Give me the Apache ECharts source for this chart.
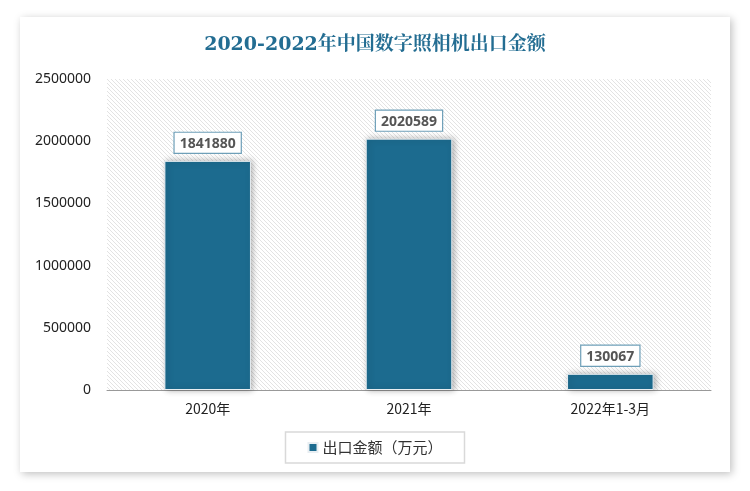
<!DOCTYPE html>
<html><head><meta charset="utf-8">
<script src="https://cdn.jsdelivr.net/npm/echarts@6/dist/echarts.min.js"></script>
<style>html,body{margin:0;padding:0;background:#fff}#c{width:750px;height:491px}</style>
</head><body><div id="c"></div>
<script>
var categories = ['2020年', '2021年', '2022年1-3月'];
var values = [1841880, 2020589, 130067];
var seriesName = '出口金额（万元）';
var titleText = '2020-2022年中国数字照相机出口金额';

var pc = document.createElement('canvas');
pc.width = 4; pc.height = 4;
var g = pc.getContext('2d');
g.fillStyle = '#ffffff'; g.fillRect(0,0,4,4);
g.strokeStyle = '#e3e3e3'; g.lineWidth = 1;
g.beginPath();
g.moveTo(0,0); g.lineTo(4,4);
g.moveTo(-2,2); g.lineTo(2,6);
g.moveTo(2,-2); g.lineTo(6,2);
g.stroke();

var chart = echarts.init(document.getElementById('c'), null, {renderer: 'canvas'});
chart.setOption({
  backgroundColor: '#ffffff',
  graphic: [{
    type: 'rect', z: -10, silent: true,
    shape: {x: 20, y: 17, width: 710, height: 455},
    style: {fill: '#fff', shadowBlur: 8, shadowColor: 'rgba(0,0,0,0.25)', shadowOffsetX: 2, shadowOffsetY: 2}
  }],
  title: {
    text: titleText, left: 'center', top: 31,
    textStyle: {fontFamily: 'DejaVu Serif, Noto Serif CJK SC, serif', fontSize: 19, fontWeight: 'bold', color: '#236d92'}
  },
  grid: {left: 107, right: 39, top: 79, bottom: 101, show: true, borderWidth: 0,
    backgroundColor: {image: pc, repeat: 'repeat'}},
  legend: {
    data: [seriesName], bottom: 28, left: 'center',
    itemWidth: 9, itemHeight: 9, icon: 'rect',
    borderColor: '#d9d9d9', borderWidth: 1.5, padding: [8, 22, 8, 22],
    textStyle: {fontSize: 15, color: '#333', fontFamily: 'Noto Sans CJK SC'}
  },
  xAxis: {
    type: 'category', data: categories,
    axisLine: {lineStyle: {color: '#999', width: 1}},
    axisTick: {show: false},
    axisLabel: {fontSize: 14, color: '#222', margin: 12, fontFamily: 'Noto Sans CJK SC'}
  },
  yAxis: {
    type: 'value', min: 0, max: 2500000, interval: 500000,
    axisLine: {show: false}, axisTick: {show: false},
    splitLine: {show: false},
    axisLabel: {fontSize: 14, color: '#222', margin: 16, fontFamily: 'Noto Sans, sans-serif',
      formatter: function (v) { return String(v); }}
  },
  series: [{
    name: seriesName, type: 'bar', data: values, barWidth: '43%',
    itemStyle: {color: '#1c6b8f', borderColor: '#e8eef2', borderWidth: 1,
      shadowBlur: 6, shadowColor: 'rgba(0,0,0,0.3)', shadowOffsetX: 2, shadowOffsetY: 0},
    label: {
      show: true, position: 'top', distance: 8,
      backgroundColor: '#fff', borderColor: '#6e9fb8', borderWidth: 1.2,
      padding: [4, 5, 2, 5],
      fontSize: 14, fontWeight: 'bold', color: '#555', fontFamily: 'Noto Sans, sans-serif'
    }
  }]
});
</script></body></html>
